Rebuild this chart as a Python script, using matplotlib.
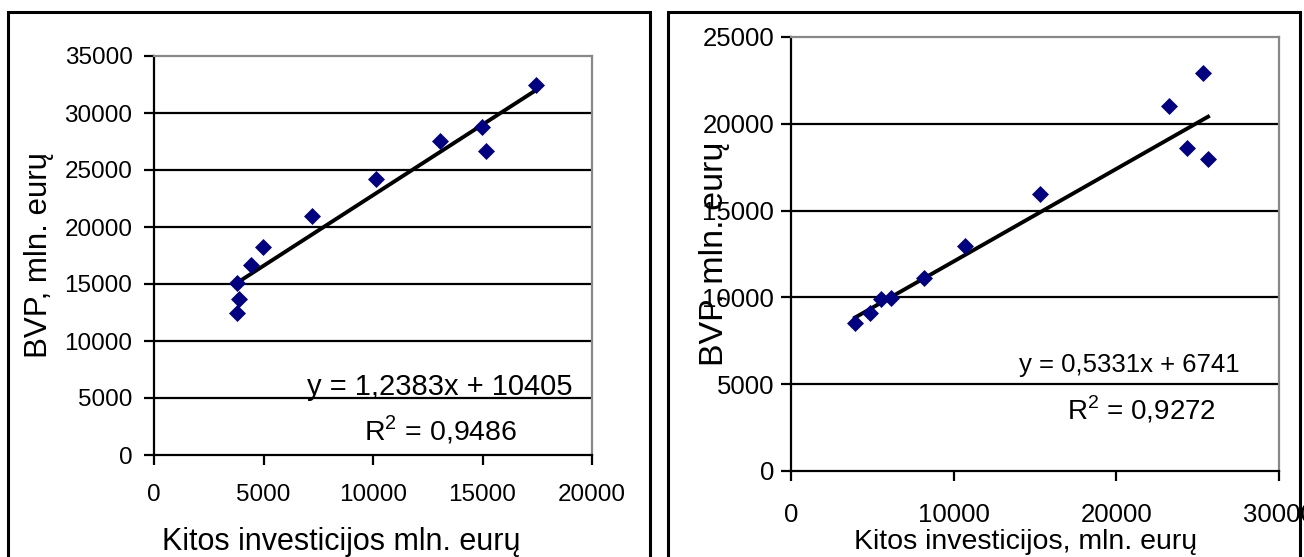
import numpy as np
import matplotlib
matplotlib.use("Agg")
import matplotlib.pyplot as plt
from matplotlib.patches import Rectangle

plt.rcParams['font.family'] = ['Liberation Sans', 'DejaVu Sans']
plt.rcParams['mathtext.fontset'] = 'custom'
plt.rcParams['mathtext.rm'] = 'Liberation Sans'

# left chart: other investments vs GDP
left_x = [3790, 3880, 3790, 4430, 4980, 7210, 10140, 13060, 14980, 15160, 17440]
left_y = [15100, 13700, 12450, 16650, 18250, 21000, 24200, 27550, 28750, 26650, 32450]
left_slope, left_icpt, left_r2 = 1.2383, 10405, 0.9486

# right chart
right_x = [3930, 4860, 5530, 6150, 8180, 10700, 15310, 23240, 24340, 25330, 25640]
right_y = [8500, 9100, 9900, 9950, 11100, 12950, 15950, 21000, 18600, 22950, 18000]
right_slope, right_icpt, right_r2 = 0.5331, 6741, 0.9272

W, H = 1304, 557
fig = plt.figure(figsize=(W / 100, H / 100), dpi=100)

def box(l, t, r, b):
    return [l / W, 1 - b / H, (r - l) / W, (b - t) / H]

def draw(ax, xs, ys, slope, icpt, xmax, ymax, xstep, ystep, fs, ypad, xpad):
    ax.set_xlim(0, xmax)
    ax.set_ylim(0, ymax)
    ax.set_xticks(np.arange(0, xmax + 1, xstep))
    ax.set_yticks(np.arange(0, ymax + 1, ystep))
    for v in np.arange(ystep, ymax, ystep):
        ax.axhline(v, color='black', lw=1.6, zorder=1)
    for s in ['top', 'right']:
        ax.spines[s].set_color('#888888')
        ax.spines[s].set_linewidth(1.6)
    for s in ['left', 'bottom']:
        ax.spines[s].set_color('black')
        ax.spines[s].set_linewidth(1.6)
    ax.tick_params(direction='out', length=7, width=1.6, labelsize=fs)
    ax.tick_params(axis='y', pad=ypad)
    ax.tick_params(axis='x', pad=xpad)
    ax.scatter(xs, ys, marker='D', s=75, color='#000080', zorder=3, linewidths=0)
    tx = np.array([min(xs), max(xs)])
    ax.plot(tx, slope * tx + icpt, color='black', lw=2.8, zorder=2)

ax1 = fig.add_axes(box(154, 56, 592, 455))
draw(ax1, left_x, left_y, left_slope, left_icpt, 20000, 35000, 5000, 5000, 17.5, 8.5, 14)
ax1.set_ylabel('BVP, mln. eurų', fontsize=22.5)
ax1.yaxis.set_label_coords(-0.228, 0.5)
ax1.set_xlabel('Kitos investicijos mln. eurų', fontsize=22)
ax1.xaxis.set_label_coords(0.427, -0.18)
eq1 = f"y = {left_slope:.4f}x + {left_icpt}".replace('.', ',')
ax1.text(0.955, 0.17, eq1, transform=ax1.transAxes, fontsize=21, ha='right', va='center')
ax1.text(0.83, 0.065, f"R$^2$ = {left_r2:.4f}".replace('.', ','), transform=ax1.transAxes,
         fontsize=20.5, ha='right', va='center')

ax2 = fig.add_axes(box(791, 37, 1279, 471))
draw(ax2, right_x, right_y, right_slope, right_icpt, 30000, 25000, 10000, 5000, 18.5, 5, 16)
ax2.set_ylabel('BVP, mln. eurų', fontsize=24.5)
ax2.yaxis.set_label_coords(-0.125, 0.5)
ax2.set_xlabel('Kitos investicijos, mln. eurų', fontsize=20.5)
ax2.xaxis.set_label_coords(0.48, -0.134)
eq2 = f"y = {right_slope:.4f}x + {right_icpt}".replace('.', ',')
ax2.text(0.92, 0.245, eq2, transform=ax2.transAxes, fontsize=18.5, ha='right', va='center')
ax2.text(0.87, 0.14, f"R$^2$ = {right_r2:.4f}".replace('.', ','), transform=ax2.transAxes,
         fontsize=20, ha='right', va='center')

# panel frames
for l, r in [(8, 650), (668, 1300)]:
    fig.add_artist(Rectangle((l / W, -0.1), (r - l) / W, 1.1 - 12 / H,
                             transform=fig.transFigure, fill=False,
                             edgecolor='black', lw=2.2, clip_on=False))

fig.savefig('out.png', dpi=100)
